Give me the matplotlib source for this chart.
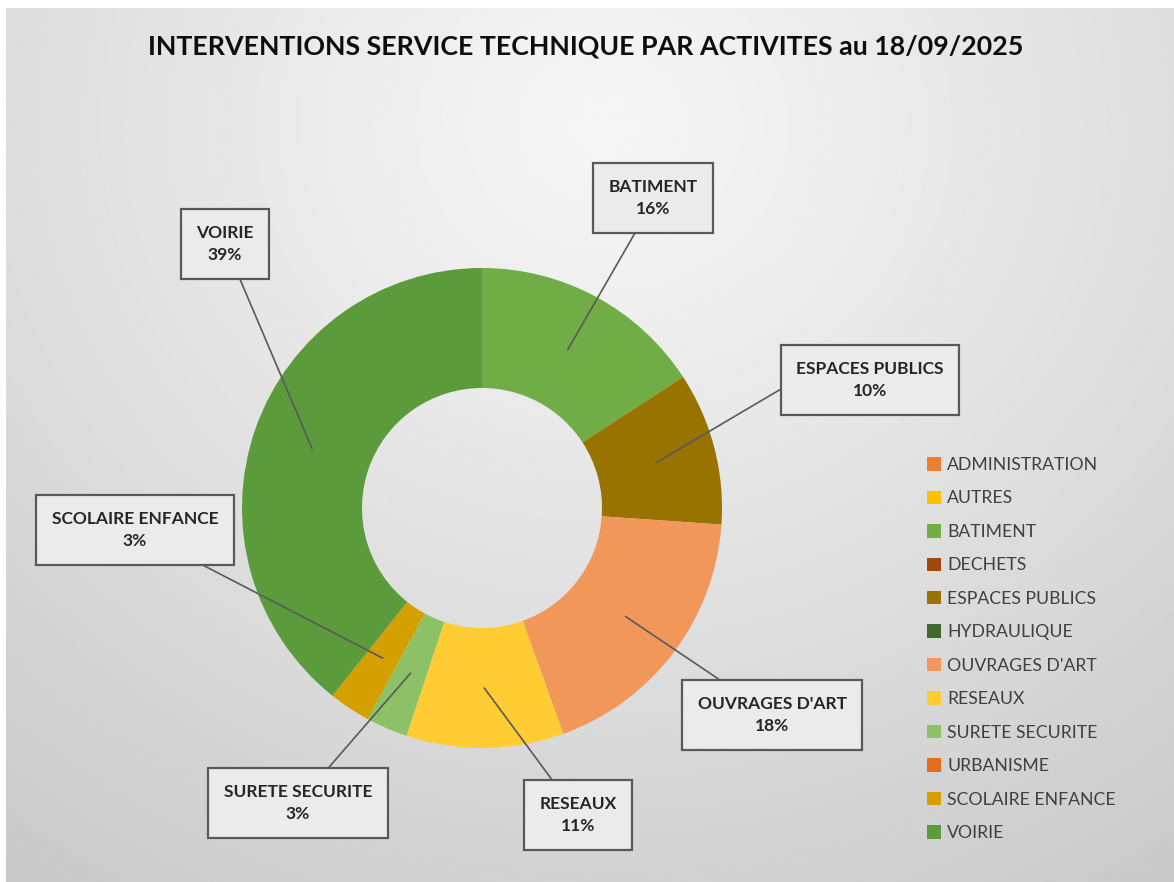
import matplotlib.pyplot as plt
import numpy as np
from matplotlib.patches import Patch

plt.rcParams['font.family'] = ['Lato', 'DejaVu Sans']

# données (parts en %)
categories = ['ADMINISTRATION', 'AUTRES', 'BATIMENT', 'DECHETS', 'ESPACES PUBLICS',
              'HYDRAULIQUE', "OUVRAGES D'ART", 'RESEAUX', 'SURETE SECURITE',
              'URBANISME', 'SCOLAIRE ENFANCE', 'VOIRIE']
parts = [0, 0, 15.8, 0, 10.3, 0, 18.4, 10.6, 2.8, 0, 2.8, 39.3]
couleurs = ['#ED7D31', '#FFC000', '#70AD47', '#9E480E', '#997300', '#43682B',
            '#F1975A', '#FFCD33', '#8CC168', '#E36C1E', '#D4A000', '#5B9B3C']
titre = 'INTERVENTIONS SERVICE TECHNIQUE PAR ACTIVITES au 18/09/2025'

# position des étiquettes (pixels, origine en bas à gauche)
pos_etiquettes = {
    'BATIMENT': (653, 684),
    'ESPACES PUBLICS': (870, 502),
    "OUVRAGES D'ART": (772, 167),
    'RESEAUX': (578, 67),
    'SURETE SECURITE': (298, 79),
    'SCOLAIRE ENFANCE': (135, 352),
    'VOIRIE': (225, 638),
}
# point d'accroche du trait sur la boîte
accroche = {'ESPACES PUBLICS': (0, 0.5), 'BATIMENT': (0.4, 0)}

W, H = 1174, 882
cx, cy, R = 482, 374, 240

fig = plt.figure(figsize=(W / 100, H / 100), dpi=100)
fig.patch.set_facecolor('white')
ax = fig.add_axes([0, 0, 1, 1])

# fond dégradé radial gris
yy, xx = np.mgrid[0:H, 0:W]
d = np.hypot(xx - 600, (yy - (H - 120)) * 1.1)
fond = 0.965 - 0.18 * (d / d.max()) ** 1.1
ax.imshow(fond, cmap='gray', vmin=0, vmax=1, extent=[6, W, 0, H - 8],
          origin='lower', zorder=0, aspect='auto')

wedges, _ = ax.pie(parts, colors=couleurs, startangle=90, counterclock=False,
                   center=(cx, cy), radius=R,
                   wedgeprops=dict(width=R / 2, linewidth=0))
for w in wedges:
    w.set_zorder(2)

for w, nom, v in zip(wedges, categories, parts):
    if v == 0:
        continue
    ang = np.deg2rad((w.theta1 + w.theta2) / 2)
    xy = (cx + 0.75 * R * np.cos(ang), cy + 0.75 * R * np.sin(ang))
    ax.annotate(f'{nom}\n{v:.0f}%', xy=xy, xytext=pos_etiquettes[nom],
                ha='center', va='center', fontsize=12.5, fontweight='bold',
                color='#262626', linespacing=1.5, zorder=4,
                bbox=dict(boxstyle='square,pad=0.9', fc='#EBEBEB', ec='#595959', lw=1.6),
                arrowprops=dict(arrowstyle='-', color='#595959', lw=1.2,
                                shrinkA=0, shrinkB=0,
                                relpos=accroche.get(nom, (0.5, 0.5))))

ax.text(586, H - 46, titre, ha='center', va='center', fontsize=19.3,
        fontweight='bold', color='#0D0D0D', zorder=4)

poignees = [Patch(facecolor=c, edgecolor='none') for c in couleurs]
ax.legend(poignees, categories, loc='upper left', bbox_to_anchor=(927, H - 457),
          bbox_transform=ax.transData, frameon=False, fontsize=12.7,
          labelcolor='#404040', handlelength=0.8, handleheight=0.8,
          handletextpad=0.35, labelspacing=0.99, borderpad=0, borderaxespad=0)

ax.set_xlim(0, W)
ax.set_ylim(0, H)
ax.set_aspect('auto')
ax.axis('off')

fig.savefig('out.png', dpi=100)
